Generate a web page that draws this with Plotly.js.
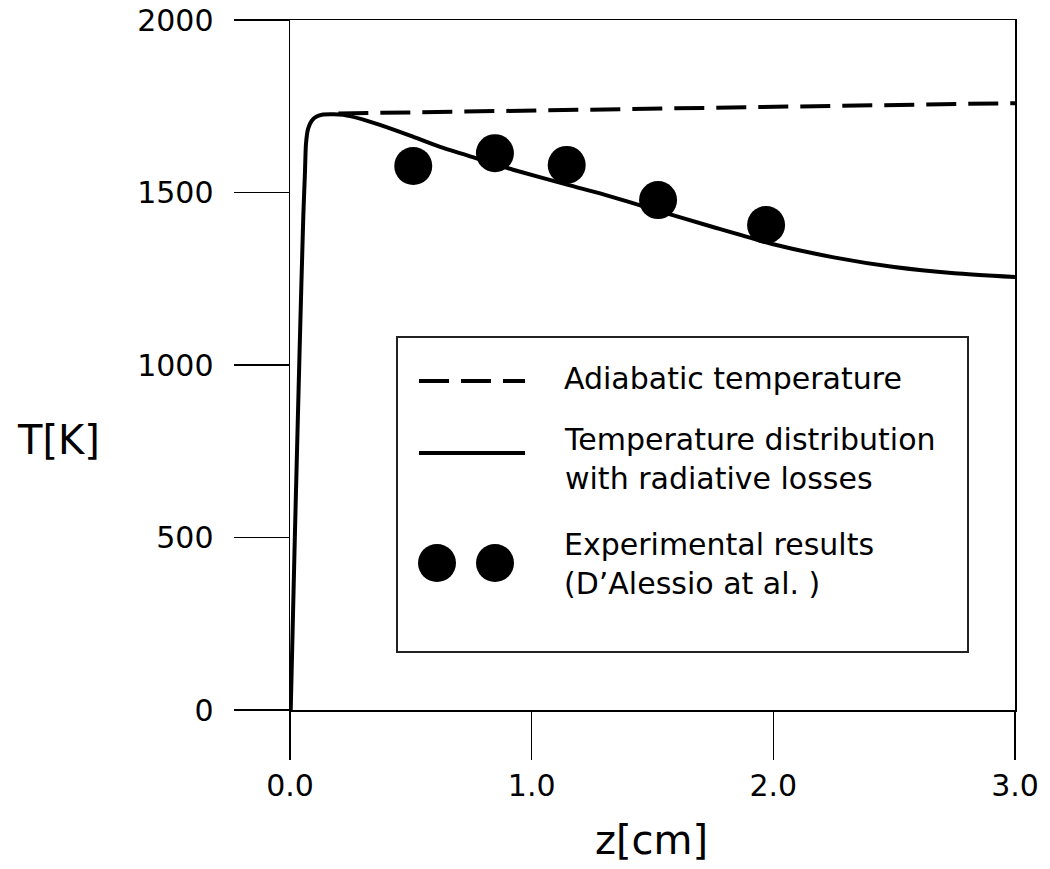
<!DOCTYPE html>
<html>
<head>
<meta charset="utf-8">
<script src="https://cdn.plot.ly/plotly-3.0.1.min.js"></script>
<style>html,body{margin:0;padding:0;background:#fff;}#chart{width:1050px;height:869px;}</style>
</head>
<body>
<div id="chart"></div>
<script>
// Temperature distribution with radiative losses (solid line)
const zRadiative = [0.003, 0.02, 0.04, 0.055, 0.062, 0.066, 0.075, 0.09, 0.11, 0.137, 0.18, 0.22, 0.3, 0.372, 0.5, 0.621, 0.786, 0.923, 1.15, 1.3, 1.5, 1.75, 2.0, 2.25, 2.5, 2.75, 3.0];
const tRadiative = [0, 500, 1050, 1430, 1560, 1640, 1685, 1708, 1720, 1726, 1727, 1725, 1712, 1696, 1664, 1632, 1596, 1566, 1522, 1494, 1452, 1400, 1350, 1312, 1284, 1266, 1255];
// Adiabatic temperature (dashed line)
const zAdiabatic = [0.2, 1.0, 2.0, 3.0];
const tAdiabatic = [1729, 1737, 1748, 1759];
// Experimental results (D'Alessio et al.)
const zExperiment = [0.51, 0.848, 1.145, 1.523, 1.97];
const tExperiment = [1577, 1614, 1580, 1478, 1406];
// Axis ticks
const xTickVals = [0, 1, 2, 3];
const xTickText = ["0.0", "1.0", "2.0", "3.0"];
const yTickVals = [0, 500, 1000, 1500, 2000];
const yTickText = ["0", "500", "1000", "1500", "2000"];
// Legend labels
const legendLabels = ["Adiabatic temperature", "Temperature distribution<br>with radiative losses", "Experimental results<br>(D\u2019Alessio at al. )"];

const FONT = "DejaVu Sans, Liberation Sans, Arial, sans-serif";

const traces = [
  {x: zAdiabatic, y: tAdiabatic, mode: "lines", name: legendLabels[0],
   line: {color: "#000", width: 4, dash: "30px,12px"}, showlegend: false},
  {x: zRadiative, y: tRadiative, mode: "lines", name: legendLabels[1],
   line: {color: "#000", width: 4, shape: "spline", smoothing: 0.6}, showlegend: false},
  {x: zExperiment, y: tExperiment, mode: "markers", name: legendLabels[2],
   marker: {color: "#000", size: 38, line: {width: 0}}, showlegend: false}
];

// helpers to convert pixel positions to paper coordinates (plot area 290..1015 x, 20..710 y)
const px = v => (v - 290) / 725;
const py = v => (710 - v) / 690;

const layout = {
  width: 1050, height: 869,
  margin: {l: 290, r: 35, t: 20, b: 159, pad: 0},
  paper_bgcolor: "#fff", plot_bgcolor: "#fff",
  showlegend: false,
  font: {family: FONT, color: "#000"},
  xaxis: {
    range: [0, 3], tickvals: xTickVals, ticktext: xTickText,
    ticks: "outside", ticklen: 48, tickwidth: 1.5, tickcolor: "#000",
    showline: true, linecolor: "#000", linewidth: 1.5, mirror: true,
    showgrid: false, zeroline: false,
    tickfont: {family: FONT, size: 30, color: "#000"},
    ticklabelstandoff: 0
  },
  yaxis: {
    range: [0, 2000], tickvals: yTickVals, ticktext: yTickText,
    ticks: "outside", ticklen: 55, tickwidth: 1.5, tickcolor: "#000",
    showline: true, linecolor: "#000", linewidth: 1.5, mirror: true,
    showgrid: false, zeroline: false,
    tickfont: {family: FONT, size: 30, color: "#000"},
    ticklabelstandoff: 14
  },
  shapes: [
    {type: "rect", xref: "paper", yref: "paper", x0: px(397), x1: px(968), y0: py(337), y1: py(652),
     line: {color: "#222", width: 2}, fillcolor: "rgba(255,255,255,0)"},
    {type: "line", xref: "paper", yref: "paper", x0: px(419), x1: px(525), y0: py(381), y1: py(381),
     line: {color: "#000", width: 4, dash: "30px,12px"}},
    {type: "line", xref: "paper", yref: "paper", x0: px(419), x1: px(525), y0: py(453), y1: py(453),
     line: {color: "#000", width: 4}},
    {type: "circle", xref: "paper", yref: "paper", xsizemode: "pixel", ysizemode: "pixel",
     xanchor: px(437), yanchor: py(563), x0: -19, x1: 19, y0: -19, y1: 19,
     fillcolor: "#000", line: {width: 0}},
    {type: "circle", xref: "paper", yref: "paper", xsizemode: "pixel", ysizemode: "pixel",
     xanchor: px(495), yanchor: py(563), x0: -19, x1: 19, y0: -19, y1: 19,
     fillcolor: "#000", line: {width: 0}}
  ],
  annotations: [
    {xref: "paper", yref: "paper", x: px(562), y: py(378), xanchor: "left", yanchor: "middle", align: "left",
     text: legendLabels[0], showarrow: false, font: {family: FONT, size: 30, color: "#000"}},
    {xref: "paper", yref: "paper", x: px(562), y: py(458.5), xanchor: "left", yanchor: "middle", align: "left",
     text: legendLabels[1], showarrow: false, font: {family: FONT, size: 30, color: "#000"}},
    {xref: "paper", yref: "paper", x: px(562), y: py(563.5), xanchor: "left", yanchor: "middle", align: "left",
     text: legendLabels[2], showarrow: false, font: {family: FONT, size: 30, color: "#000"}},
    {xref: "paper", yref: "paper", x: px(58), y: py(440), xanchor: "center", yanchor: "middle",
     text: "T[K]", showarrow: false, font: {family: FONT, size: 40, color: "#000"}},
    {xref: "paper", yref: "paper", x: px(651), y: py(840), xanchor: "center", yanchor: "middle",
     text: "z[cm]", showarrow: false, font: {family: FONT, size: 40, color: "#000"}}
  ]
};

Plotly.newPlot("chart", traces, layout, {displayModeBar: false, staticPlot: true});
</script>
</body>
</html>
